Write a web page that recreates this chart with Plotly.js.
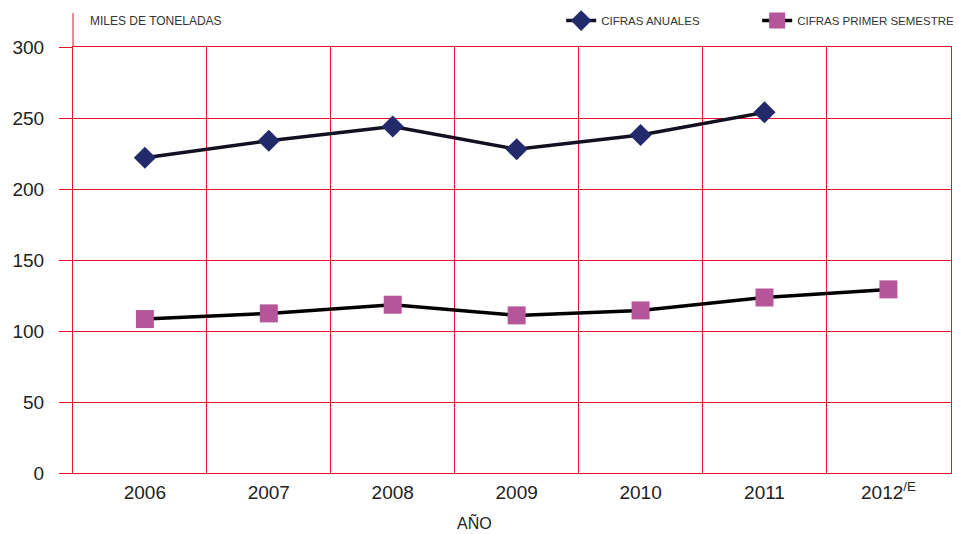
<!DOCTYPE html>
<html><head><meta charset="utf-8">
<script src="https://cdn.plot.ly/plotly-3.0.1.min.js"></script>
<style>html,body{margin:0;padding:0;background:#fff}</style>
</head><body>
<div id="chart" style="width:959px;height:534px"></div>
<script>
const years = ["2006","2007","2008","2009","2010","2011","2012<sup>/E</sup>"];
const anuales = [222, 234, 244, 228, 238, 254];
const semestre = [108.4, 112.4, 118.5, 111, 114.5, 123.6, 129.3];
const yTicks = [0, 50, 100, 150, 200, 250, 300];

const idx = years.map((_, i) => i);
const boundaries = idx.map(i => i + 0.5);
const red = "#e8112d";
const fontFam = "Liberation Sans, Arial, sans-serif";

const traces = [
  {x: idx.slice(0, anuales.length), y: anuales, type: "scatter", mode: "lines+markers",
   name: "CIFRAS ANUALES", line: {color: "#111122", width: 3.5},
   marker: {symbol: "diamond", size: 17, color: "#232a6b", line: {width: 0}}},
  {x: idx, y: semestre, type: "scatter", mode: "lines+markers",
   name: "CIFRAS PRIMER SEMESTRE", line: {color: "#000000", width: 3.5},
   marker: {symbol: "square", size: 18, color: "#b5559a", line: {width: 0}}},
  {x: idx, y: idx.map(() => null), xaxis: "x2", type: "scatter", mode: "lines", showlegend: false, hoverinfo: "skip"}
];

const layout = {
  width: 959, height: 534,
  margin: {l: 73, r: 6, t: 46, b: 61},
  paper_bgcolor: "#fff", plot_bgcolor: "#fff",
  font: {family: fontFam, color: "#222"},
  showlegend: true,
  legend: {orientation: "h", x: 0.556, xanchor: "left", y: 1.062, yanchor: "middle",
           font: {size: 11.5, color: "#333", family: fontFam}, bgcolor: "rgba(0,0,0,0)",
           traceorder: "normal", entrywidth: 151},
  xaxis: {type: "linear", range: [-0.58, 6.505], tickvals: boundaries, showticklabels: false,
          showgrid: true, gridcolor: red, gridwidth: 1, zeroline: false,
          showline: true, linecolor: red, linewidth: 1, mirror: true, ticks: ""},
  xaxis2: {type: "linear", overlaying: "x", matches: "x", side: "bottom",
           tickvals: idx, ticktext: years, showgrid: false, zeroline: false, showline: false,
           tickfont: {size: 19, color: "#222"}, ticks: "", ticklabelstandoff: 6},
  yaxis: {range: [0, 300], tickvals: yTicks, showgrid: true, gridcolor: red, gridwidth: 1,
          zeroline: false, showline: true, linecolor: red, linewidth: 1, mirror: true,
          ticks: "outside", ticklen: 13, tickcolor: red, tickwidth: 1,
          ticklabelstandoff: 11, tickfont: {size: 19, color: "#222"}},
  shapes: [
    {type: "line", xref: "paper", yref: "paper", x0: 0, x1: 0, y0: 1, y1: 1.0796,
     line: {color: red, width: 1}}
  ],
  annotations: [
    {text: "MILES DE TONELADAS", xref: "paper", yref: "paper", x: 0.017, y: 1.061,
     xanchor: "left", yanchor: "middle", showarrow: false, font: {size: 12, color: "#333"}},
    {text: "AÑO", xref: "paper", yref: "paper", x: 0.457, y: -0.117,
     xanchor: "center", yanchor: "middle", showarrow: false, font: {size: 16, color: "#222"}}
  ]
};

Plotly.newPlot("chart", traces, layout, {displayModeBar: false, staticPlot: true});
</script>
</body></html>
